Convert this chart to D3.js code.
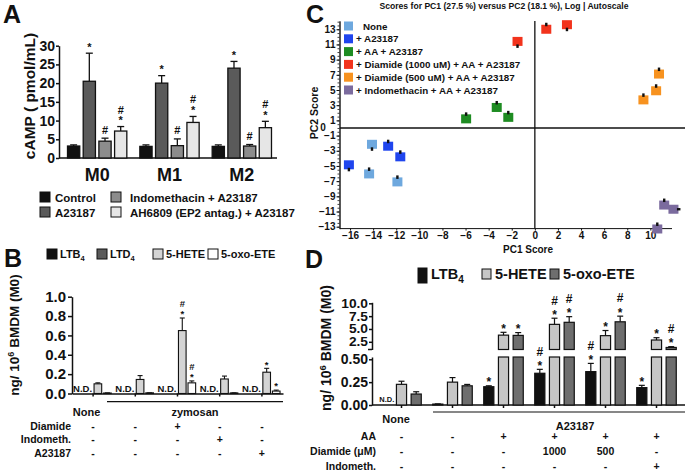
<!DOCTYPE html>
<html><head><meta charset="utf-8">
<script src="https://cdn.jsdelivr.net/npm/d3@7"></script>
<style>
body{margin:0;background:#fff}
text{font-family:"Liberation Sans",Arial,Helvetica,sans-serif;font-weight:bold;fill:#111}
</style>
</head><body>
<svg id="fig" width="685" height="475"></svg>
<script>
// ---------- Panel A data ----------
const aGroups = ["M0","M1","M2"];
const aSeries = ["Control","A23187","Indomethacin + A23187","AH6809 (EP2 antag.) + A23187"];
const aValues = [[3.2,20.5,4.5,7.2],[3.1,20.0,3.3,9.5],[3.1,24.0,3.2,8.1]];
const aErrTop = [[3.5,28.0,5.3,8.4],[3.5,22.0,5.1,11.1],[3.5,25.8,3.6,9.8]];
const aMarks  = [["","*","#","#*"],["","*","#","#*"],["","*","#","#*"]];
const aTicks  = [0,5,10,15,20,25,30];

// ---------- Panel B data ----------
const bGroups = ["g1","g2","g3","g4","g5"];
const bSeries = ["LTB4","LTD4","5-HETE","5-oxo-ETE"];
const bValues = [[null,null,0.10,0.005],[null,null,0.145,0.007],[null,null,0.65,0.11],[null,null,0.15,0.006],[null,null,0.22,0.025]];
const bErrTop = [[null,null,0.11,0.006],[null,null,0.185,0.008],[null,null,0.78,0.13],[null,null,0.18,0.007],[null,null,0.26,0.035]];
const bMarks  = [["","","",""],["","","",""],["","","#*","#*"],["","","",""],["","","*","*"]];
const bTicks  = [0,0.2,0.4,0.6,0.8,1.0];
const bRows   = ["Diamide","Indometh.","A23187"];
const bSigns  = [["-","-","+","-","-"],["-","-","-","+","-"],["-","-","-","-","+"]];

// ---------- Panel C data ----------
const cSeries = ["None","+ A23187","+ AA + A23187","+ Diamide (1000 uM) + AA + A23187","+ Diamide (500 uM) + AA + A23187","+ Indomethacin + AA + A23187"];
const cPC1 = [[-14.1,-14.35,-11.9],[-12.7,-11.65,-16.1],[-5.95,-3.3,-2.3],[0.99,2.78,-1.5],[10.75,10.5,9.4],[11.2,12.0,10.6]];
const cPC2 = [[-2.15,-6.05,-7.1],[-2.4,-3.8,-4.85],[1.2,2.7,1.4],[13.0,13.6,11.4],[7.1,4.9,3.7],[-10.15,-10.7,-13.3]];
const cDot = [["b","t","t"],["t","t","b"],["t","t","t"],["t","b","b"],["t","t","t"],["t","r","t"]];
const cXTicks = [-16,-14,-12,-10,-8,-6,-4,-2,0,2,4,6,8,10];
const cYTicks = [13,11,9,7,5,3,1,-1,-3,-5,-7,-9,-11,-13];

// ---------- Panel D data ----------
const dGroups = ["g1","g2","g3","g4","g5","g6"];
const dSeries = ["LTB4","5-HETE","5-oxo-ETE"];
const dValues = [[null,0.226,0.12],[0.01,0.25,0.21],[0.2,3.8,3.75],[0.347,5.9,6.3],[0.365,3.7,6.4],[0.19,2.85,1.4]];
const dErrTop = [[null,0.26,0.145],[0.012,0.30,0.225],[0.21,4.35,4.3],[0.39,7.1,7.4],[0.455,4.7,7.5],[0.215,3.3,1.55]];
const dMarks  = [["","",""],["","",""],["*","*","*"],["#*","#*","#*"],["#*","*","#*"],["*","*","#*"]];
const dTicksUpper = [2.5,5.0,7.5,10.0];
const dTicksLower = [0,0.25,0.50];
const dRows  = ["AA","Diamide (\u03bcM)","Indometh."];
const dSigns = [["-","-","+","+","+","+"],["-","-","-","1000","500","-"],["-","-","-","-","-","+"]];

// ---------- helpers ----------
const svg = d3.select("#fig");
function txt(g,x,y,s,fs,anchor){
  return g.append("text").attr("x",x).attr("y",y).attr("font-size",fs)
    .attr("text-anchor",anchor||"start").text(s);
}
function marks(g,x,yTop,str,fs,starGap,hashGap){
  const chars = str.split("").reverse();
  chars.forEach((c,i)=>{
    const center = yTop - starGap - i*hashGap;
    const base = c==="*" ? center + 0.55*fs : center + 0.36*fs;
    txt(g,x,base,c,fs,"middle");
  });
}
function styleAxis(sel,fs,sw){
  sel.selectAll("path,line").attr("stroke","#111").attr("stroke-width",sw);
  sel.selectAll("text").attr("font-size",fs).attr("fill","#111")
     .style("font-family",'"Liberation Sans",Arial,sans-serif').style("font-weight","bold");
}
function errBar(g,x,y0,y1,cap,sw){
  g.append("line").attr("x1",x).attr("x2",x).attr("y1",y0).attr("y2",y1).attr("stroke","#111").attr("stroke-width",sw);
  g.append("line").attr("x1",x-cap).attr("x2",x+cap).attr("y1",y1).attr("y2",y1).attr("stroke","#111").attr("stroke-width",sw);
}

// panel letters
txt(svg,3,23,"A",25); txt(svg,306,23,"C",25); txt(svg,4,267,"B",25); txt(svg,305,268,"D",25);

// ================= Panel A =================
{
  const g = svg.append("g");
  const aColors = ["#111111","#5a5a5a","#8c8c8c","#e6e6e6"];
  const x0 = d3.scaleBand().domain(aGroups).range([61,278]).paddingInner(0.18).paddingOuter(0.09);
  const x1 = d3.scaleBand().domain(aSeries).range([0,x0.bandwidth()]).paddingInner(0.22);
  const y = d3.scaleLinear().domain([0,30]).range([158,45.7]);
  const ax = g.append("g").attr("transform","translate(59,0)")
    .call(d3.axisLeft(y).tickValues(aTicks).tickSize(3).tickSizeOuter(0).tickPadding(1));
  styleAxis(ax,14,1.5);
  g.append("line").attr("x1",59).attr("x2",277).attr("y1",y(0)).attr("y2",y(0)).attr("stroke","#111").attr("stroke-width",1.5);
  aGroups.forEach((gr,gi)=>{
    aSeries.forEach((s,si)=>{
      const v = aValues[gi][si], e = aErrTop[gi][si];
      const bx = x0(gr)+x1(s), bw = x1.bandwidth(), cx = bx+bw/2;
      errBar(g,cx,y(v),y(e),3.5,1.3);
      g.append("rect").attr("x",bx).attr("y",y(v)).attr("width",bw).attr("height",y(0)-y(v))
        .attr("fill",aColors[si]).attr("stroke","#111").attr("stroke-width",1.3);
      if (aMarks[gi][si]) marks(g,cx,y(e),aMarks[gi][si],11,8.5,8.5);
    });
    txt(g,x0(gr)+x0.bandwidth()/2,181,gr,18,"middle");
  });
  txt(g,0,0,"cAMP ( pmol/mL)",15.5,"middle").attr("transform","translate(35,96) rotate(-90)");
  const order = [[0,40,192],[1,40,207],[2,111,192],[3,111,207]];
  order.forEach(([si,xx,yy])=>{
    g.append("rect").attr("x",xx).attr("y",yy).attr("width",10).attr("height",10)
      .attr("fill",aColors[si]).attr("stroke","#111").attr("stroke-width",1);
    txt(g,xx+(si<2?15:19),yy+9.5,aSeries[si],11.5);
  });
}

// ================= Panel B =================
{
  const g = svg.append("g");
  const bColors = ["#111111","#5a5a5a","#d4d4d4","#ffffff"];
  const x0 = d3.scaleBand().domain(bGroups).range([72,283]).paddingInner(0.14).paddingOuter(0.07);
  const x1 = d3.scaleBand().domain(bSeries).range([0,x0.bandwidth()]).paddingInner(0.2);
  const y = d3.scaleLinear().domain([0,1]).range([393.5,296.7]);
  const ay = g.append("g").attr("transform","translate(72,0)")
    .call(d3.axisLeft(y).tickValues(bTicks).tickFormat(d3.format(".1f")).tickSize(4).tickSizeOuter(0).tickPadding(2));
  styleAxis(ay,15,1.5);
  const ax = g.append("g").attr("transform",`translate(0,${y(0)})`)
    .call(d3.axisBottom(d3.scaleBand().domain(bGroups).range([72,283])).tickSize(3).tickSizeOuter(0).tickFormat(""));
  styleAxis(ax,10,1.5);
  bGroups.forEach((gr,gi)=>{
    const center = x0(gr)+x0.bandwidth()/2;
    bSeries.forEach((s,si)=>{
      const v = bValues[gi][si]; if (v===null) return;
      const e = bErrTop[gi][si];
      const bx = x0(gr)+x1(s), bw=x1.bandwidth(), cx=bx+bw/2;
      errBar(g,cx,y(v),y(e),2.5,1.1);
      g.append("rect").attr("x",bx).attr("y",y(v)).attr("width",bw).attr("height",y(0)-y(v))
        .attr("fill",bColors[si]).attr("stroke","#111").attr("stroke-width",1.1);
      if (bMarks[gi][si]) marks(g,cx,y(e),bMarks[gi][si],9.5,6,8.2);
    });
    txt(g,center-10.5,392,"N.D.",9.5,"middle");
    bRows.forEach((r,ri)=>txt(g,center,[430,443,457][ri],bSigns[ri][gi],10.5,"middle"));
  });
  const lx = [47,97,153,208];
  bSeries.forEach((s,si)=>{
    g.append("rect").attr("x",lx[si]).attr("y",249).attr("width",10).attr("height",10)
      .attr("fill",bColors[si]).attr("stroke","#111").attr("stroke-width",1);
    const t = txt(g,lx[si]+13,258,"",11);
    if (s.startsWith("LT")) { t.text(s.slice(0,3)); t.append("tspan").attr("font-size",7.5).attr("dy",3).text(s.slice(3)); }
    else t.text(s);
  });
  const yl = txt(g,0,0,"ng/ 10",13.5,"middle").attr("transform","translate(19,335) rotate(-90)");
  yl.append("tspan").attr("font-size",9).attr("dy",-5).text("6");
  yl.append("tspan").attr("dy",5).text(" BMDM (M0)");
  txt(g,86.5,416,"None",11,"middle");
  g.append("line").attr("x1",107).attr("x2",283).attr("y1",401.7).attr("y2",401.7).attr("stroke","#111").attr("stroke-width",1.2);
  txt(g,195,416,"zymosan",11,"middle");
  bRows.forEach((r,ri)=>txt(g,71,[430,443,457][ri],r,10.5,"end"));
}

// ================= Panel C =================
{
  const g = svg.append("g");
  const cColors = ["#6ea8de","#1f45ee","#1e8c22","#f2331c","#f7921f","#7b6b9e"];
  const x = d3.scaleLinear().domain([-16.87,13]).range([340,685]);
  const y = d3.scaleLinear().domain([-13.25,14.1]).range([228.6,20.9]);
  txt(g,504,9,"Scores for PC1 (27.5 %) versus PC2 (18.1 %), Log | Autoscale",8.6,"middle");
  const ay = g.append("g").attr("transform","translate(339.5,0)")
    .call(d3.axisLeft(y).tickValues(cYTicks).tickSize(3).tickSizeOuter(0).tickPadding(1));
  styleAxis(ay,10,1);
  const minor = d3.range(-13,14.01,0.5);
  g.append("g").attr("transform","translate(339.5,0)")
    .call(d3.axisLeft(y).tickValues(minor).tickSize(2).tickSizeOuter(0).tickFormat(""))
    .selectAll("path,line").attr("stroke","#111").attr("stroke-width",0.8);
  const ax = g.append("g").attr("transform",`translate(0,${y.range()[0]})`)
    .call(d3.axisBottom(x).tickValues(cXTicks).tickSize(2).tickSizeOuter(0).tickPadding(1.5));
  styleAxis(ax,10,1);
  ax.select(".domain").attr("d",`M340,0H672`);
  txt(g,323,131,"0",10,"middle");
  g.append("line").attr("x1",x(0)).attr("x2",x(0)).attr("y1",y.range()[1]).attr("y2",y.range()[0]).attr("stroke","#111").attr("stroke-width",1.3);
  g.append("line").attr("x1",340).attr("x2",685).attr("y1",y(0)).attr("y2",y(0)).attr("stroke","#111").attr("stroke-width",1.3);
  txt(g,528,253,"PC1 Score",10,"middle");
  txt(g,0,0,"PC2  Score",10.5,"middle").attr("transform","translate(318,113) rotate(-90)");
  cSeries.forEach((s,si)=>{
    cPC1[si].forEach((p1,pi)=>{
      const px = x(p1), py = y(cPC2[si][pi]);
      g.append("rect").attr("x",px-5).attr("y",py-4.5).attr("width",10).attr("height",9).attr("fill",cColors[si]);
      const d = cDot[si][pi];
      if (d==="t") g.append("rect").attr("x",px-1.2).attr("y",py-6.5).attr("width",2.4).attr("height",3.5).attr("fill","#111");
      if (d==="b") g.append("rect").attr("x",px-1.2).attr("y",py+3).attr("width",2.4).attr("height",3.5).attr("fill","#111");
      if (d==="r") g.append("rect").attr("x",px+3.5).attr("y",py-1.2).attr("width",3.5).attr("height",2.4).attr("fill","#111");
    });
    const ly = 26 + si*12.8;
    g.append("rect").attr("x",344).attr("y",ly-4.5).attr("width",9).attr("height",9).attr("fill",cColors[si]);
    txt(g,si===0?363:356,ly+3.6,s,9.8);
  });
}

// ================= Panel D =================
{
  const g = svg.append("g");
  const dColors = ["#111111","#c6c6c6","#6e6e6e"];
  const x0 = d3.scaleBand().domain(dGroups).range([376,682]).paddingInner(0.225).paddingOuter(0.1125);
  const x1 = d3.scaleBand().domain(dSeries).range([0,x0.bandwidth()]).paddingInner(0.31);
  const yL = d3.scaleLinear().domain([0,0.525]).range([405,357]);
  const yU = d3.scaleLinear().domain([1,10.2]).range([349.5,302.3]);
  const LMAX = 0.525;
  const ayL = g.append("g").attr("transform","translate(372,0)")
    .call(d3.axisLeft(yL).tickValues(dTicksLower).tickFormat(d3.format(".2f")).tickSize(3).tickSizeOuter(0).tickPadding(1));
  styleAxis(ayL,14,1.5);
  const ayU = g.append("g").attr("transform","translate(372,0)")
    .call(d3.axisLeft(yU).tickValues(dTicksUpper).tickFormat(d3.format(".1f")).tickSize(3).tickSizeOuter(0).tickPadding(1));
  styleAxis(ayU,12.5,1.5);
  ayU.selectAll("text").attr("transform","scale(1.1,1)").attr("x",-4/1.1);
  g.append("line").attr("x1",368).attr("x2",372).attr("y1",349.5).attr("y2",349.5).attr("stroke","#111").attr("stroke-width",1.5);
  const ax = g.append("g").attr("transform",`translate(0,${yL(0)})`)
    .call(d3.axisBottom(d3.scaleBand().domain(dGroups).range([376,682])).tickSize(3).tickSizeOuter(0).tickFormat(""));
  styleAxis(ax,10,1.5);
  ax.select(".domain").attr("d","M372,0H685");
  dGroups.forEach((gr,gi)=>{
    const center = x0(gr)+x0.bandwidth()/2;
    dSeries.forEach((s,si)=>{
      const v = dValues[gi][si]; if (v===null) return;
      const e = dErrTop[gi][si];
      const bx = x0(gr)+x1(s), bw=x1.bandwidth(), cx=bx+bw/2;
      let topY;
      if (v<=LMAX){
        topY = yL(e);
        errBar(g,cx,yL(v),yL(e),3,1.2);
        g.append("rect").attr("x",bx).attr("y",yL(v)).attr("width",bw).attr("height",yL(0)-yL(v))
          .attr("fill",dColors[si]).attr("stroke","#111").attr("stroke-width",1.2);
      } else {
        topY = yU(e);
        errBar(g,cx,yU(v),yU(e),3,1.2);
        g.append("rect").attr("x",bx).attr("y",yL(LMAX)).attr("width",bw).attr("height",yL(0)-yL(LMAX))
          .attr("fill",dColors[si]).attr("stroke","#111").attr("stroke-width",1.2);
        g.append("rect").attr("x",bx).attr("y",yU(v)).attr("width",bw).attr("height",yU(yU.domain()[0])-yU(v))
          .attr("fill",dColors[si]).attr("stroke","#111").attr("stroke-width",1.2);
      }
      if (dMarks[gi][si]) marks(g,cx,topY,dMarks[gi][si],12,6,12);
    });
    if (dValues[gi][0]===null) txt(g,x0(gr)+x1(dSeries[0])+x1.bandwidth()/2,401.7,"N.D.",7.5,"middle");
    dRows.forEach((r,ri)=>txt(g,center,[439.5,455,470][ri],dSigns[ri][gi],10.5,"middle"));
  });
  const lx = [418,482,550];
  dSeries.forEach((s,si)=>{
    g.append("rect").attr("x",lx[si]).attr("y",si===0?268:269).attr("width",9).attr("height",si===0?15:10)
      .attr("fill",dColors[si]).attr("stroke","#111").attr("stroke-width",1);
    const t = txt(g,lx[si]+13,279,"",14.5);
    if (s.startsWith("LT")) { t.text(s.slice(0,3)); t.append("tspan").attr("font-size",10).attr("dy",4).text(s.slice(3)); }
    else t.text(s);
  });
  const yl = txt(g,0,0,"ng/ 10",14,"middle").attr("transform","translate(331,348) rotate(-90)");
  yl.append("tspan").attr("font-size",9.5).attr("dy",-5).text("6");
  yl.append("tspan").attr("dy",5).text(" BMDM (M0)");
  txt(g,396,423,"None",11,"middle");
  g.append("line").attr("x1",433).attr("x2",685).attr("y1",412).attr("y2",412).attr("stroke","#111").attr("stroke-width",1.2);
  txt(g,575,429.5,"A23187",11,"middle");
  dRows.forEach((r,ri)=>txt(g,376,[439.5,455,470][ri],r,10.5,"end"));
}
</script>
</body></html>
